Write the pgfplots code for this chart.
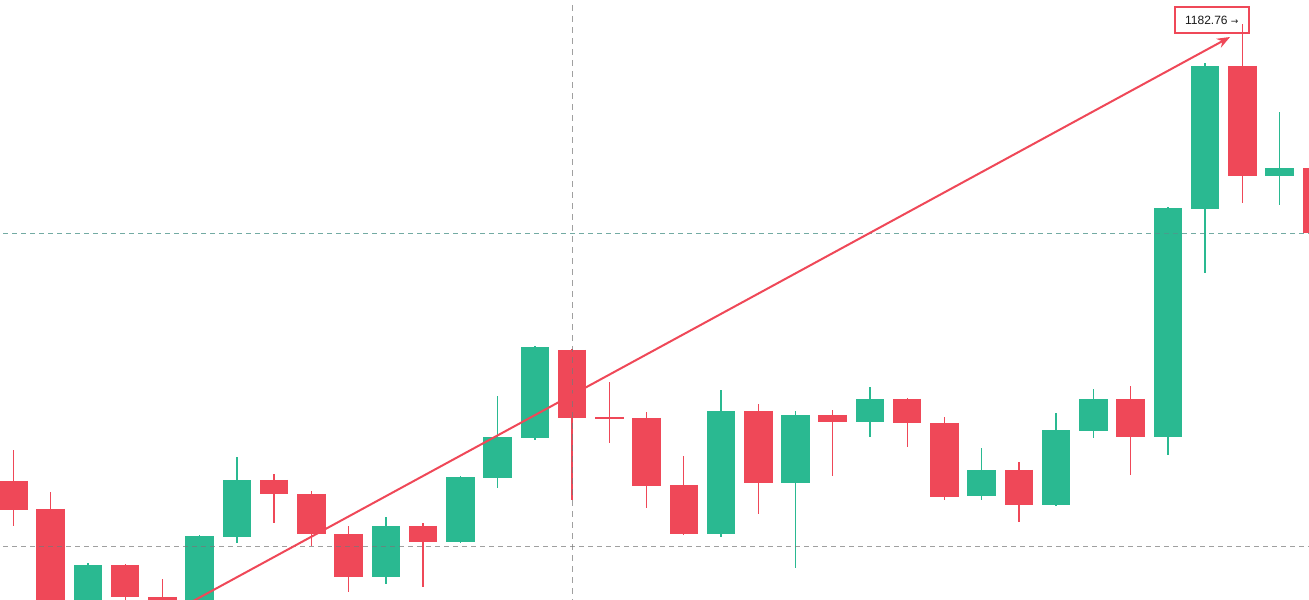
\documentclass[border=0pt]{standalone}
\usepackage{pgfplots}
\pgfplotsset{compat=1.18}
\usepackage{pgfplotstable}
\usepackage{fontspec}
\setmainfont{Liberation Sans}
\newfontfamily\dejavu{DejaVu Sans}
\usetikzlibrary{arrows.meta}
\definecolor{cgreen}{RGB}{42,185,145}
\definecolor{cred}{RGB}{239,72,88}
\definecolor{lineteal}{RGB}{80,150,140}
\definecolor{linegray}{RGB}{120,120,120}

% candle index, open, high, low, close
\pgfplotstableread{
i o h l c
2 -10 37 -20 35
5 -20 65 -25 64
6 63 143 57 120
10 23 83 16 74
12 58 124 57 123
13 122 204 112 163
14 162 254 160 253
19 66 210 63 189
21 117 189 32 185
23 178 213 163 201
26 104 152 100 130
28 95 187 94 170
29 169 211 162 201
31 163 393 145 392
32 391 537 327 534
34 424 488 395 432
}\greentab

\pgfplotstableread{
i o h l c
0 119 150 74 90
1 91 108 -25 -15
3 35 36 -5 3
4 3 21 -25 -15
7 120 126 77 106
8 106 109 54 66
9 66 74 8 23
11 74 77 13 58
15 250 251 100 182
16 183.2 218 157 181.2
17 182 188 92 114
18 115 144 65 66
20 189 196 86 117
22 185 190 124 178
24 201 202 153 177
25 177 183 100 103
27 130 138 78 95
30 201 214 125 163
33 534 576 397 424
35 432 435 360 367
}\redtab

\begin{document}
\begin{tikzpicture}
\begin{axis}[
  scale only axis, width=654.5pt, height=300pt,
  xmin=-0.3625, xmax=34.79, ymin=0, ymax=600,
  hide axis, clip=true,
]
% wicks
\addplot[cgreen, line width=0.7pt, quiver={u=0, v=\thisrow{h}-\thisrow{l}}] table[x=i, y=l] {\greentab};
\addplot[cred, line width=0.7pt, quiver={u=0, v=\thisrow{h}-\thisrow{l}}] table[x=i, y=l] {\redtab};
% bodies
\addplot[cgreen, line width=14.25pt, quiver={u=0, v=\thisrow{c}-\thisrow{o}}] table[x=i, y=o] {\greentab};
\addplot[cred, line width=14.25pt, quiver={u=0, v=\thisrow{c}-\thisrow{o}}] table[x=i, y=o] {\redtab};
% dashed guide lines
\addplot[lineteal, line width=0.5pt, dash pattern=on 2.5pt off 2pt, opacity=0.8] coordinates {(-1,366) (36,366)};
\addplot[linegray, line width=0.5pt, dash pattern=on 2.5pt off 2pt, opacity=0.7] coordinates {(-1,53) (36,53)};
\addplot[linegray, line width=0.5pt, dash pattern=on 3pt off 2.5pt, opacity=0.7] coordinates {(15,-5) (15,605)};
% trend arrow
\addplot[cred, line width=1pt, -{Stealth[length=6.5pt,width=5pt]}] coordinates {(4.5,-7.6) (32.67,563)};
% label
\node[draw=cred, line width=0.75pt, minimum width=37pt, minimum height=13pt, inner sep=0pt,
      font=\fontsize{6}{7}\selectfont, text=black!90] at (axis cs:32.18,580) {1182.76 {\dejavu\fontsize{4.5}{5}\selectfont →}};
\end{axis}
\pgfresetboundingbox
\path[use as bounding box] (current axis.south west) rectangle (current axis.north east);
\end{tikzpicture}
\end{document}
